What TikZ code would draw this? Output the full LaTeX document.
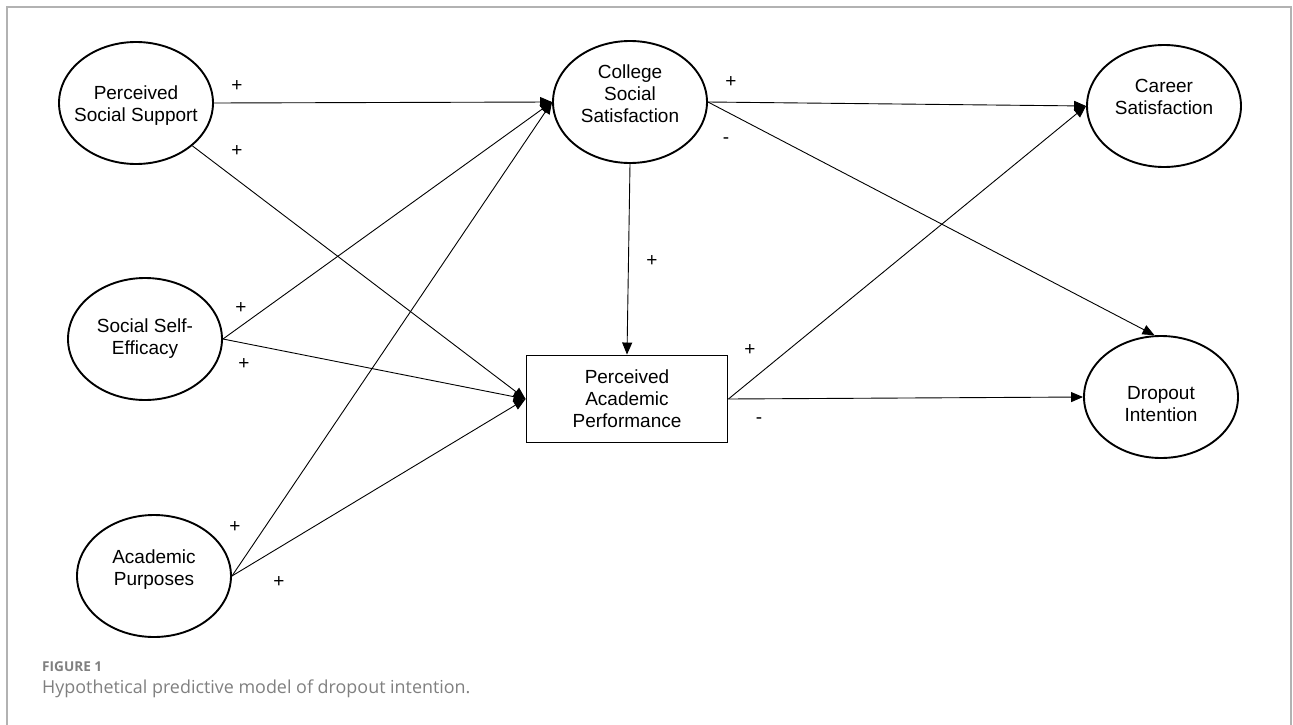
\documentclass[tikz,border=0pt]{standalone}
\usepackage{fontspec}
\setmainfont{Liberation Sans}
\newfontfamily\captionfont{Open Sans}
\usetikzlibrary{
    arrows.meta,
    shapes
}

\tikzset{
    latent/.style={draw, ellipse, line width=1.9pt, minimum width=154pt, minimum height=122pt, inner sep=0pt},
    observed/.style={draw, rectangle, line width=1.9pt, minimum width=201pt, minimum height=87pt, align=center, inner sep=0pt},
    txt/.style={align=center, inner sep=0pt},
    sign/.style={inner sep=0pt},
    link/.style={line width=0.9pt, -{Triangle[length=12pt, width=10pt]}}
}

\begin{document}
\begin{tikzpicture}[x=1pt, y=-1pt, font=\fontsize{19}{22}\selectfont]
    \useasboundingbox (0,0) rectangle (1293,725);
    \draw[black!30, line width=1.2pt] (7,725) -- (7,7) -- (1291,7) -- (1291,725);

    \node[latent, label={[txt, yshift=-3pt]center:{Perceived\\Social Support}}] (pss) at (136,103) {};
    \node[latent, label={[txt]center:{Social Self-\\Efficacy}}] (sse) at (145,339) {};
    \node[latent, label={[txt, yshift=6pt]center:{Academic\\Purposes}}] (acp) at (154,576) {};
    \node[latent, label={[txt, yshift=8pt]center:{College\\Social\\Satisfaction}}] (css) at (630,102) {};
    \node[observed] (pap) at (627,399) {Perceived\\Academic\\Performance};
    \node[latent, label={[txt, yshift=9pt]center:{Career\\Satisfaction}}] (car) at (1164,106) {};
    \node[latent, label={[txt, yshift=-7pt]center:{Dropout\\Intention}}] (dro) at (1161,397) {};

    \draw[link] (pss.east) -- (css.west);
    \draw[link] (pss) -- (pap.west);
    \draw[link] (sse.east) -- (css.west);
    \draw[link] (sse.east) -- (pap.west);
    \draw[link] (acp.east) -- (css.west);
    \draw[link] (acp.east) -- (pap.west);
    \draw[link] (css.south) -- (pap.north);
    \draw[link] (css.east) -- (car.west);
    \draw[link] (css.east) -- (dro.96);
    \draw[link] (pap.east) -- (car.west);
    \draw[link] (pap.east) -- (dro.west);

    % signs of the paths
    \node[sign] (s1) at (237,86) {+};
    \node[sign] (s2) at (237,151) {+};
    \node[sign] (s3) at (241,308) {+};
    \node[sign] (s4) at (244,364) {+};
    \node[sign] (s5) at (235,527) {+};
    \node[sign] (s6) at (279,582) {+};
    \node[sign] (s7) at (731,82) {+};
    \node[sign] (s8) at (726,141) {-};
    \node[sign] (s9) at (652,261) {+};
    \node[sign] (s10) at (750,350) {+};
    \node[sign] (s11) at (759,421) {-};

    \node[anchor=west, text=black!50, inner sep=0pt, font=\captionfont\bfseries\fontsize{13.6}{15}\selectfont] (fig) at (42,667) {FIGURE 1};
    \node[anchor=west, text=black!50, inner sep=0pt, font=\captionfont\fontsize{17.9}{21}\selectfont] (cap) at (42,689) {Hypothetical predictive model of dropout intention.};
\end{tikzpicture}
\end{document}
